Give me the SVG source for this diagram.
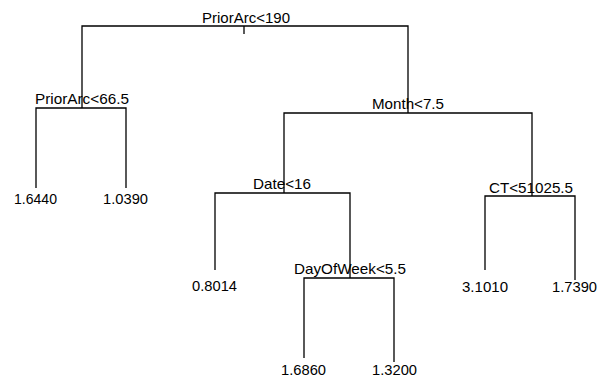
<svg xmlns="http://www.w3.org/2000/svg" width="607" height="379" viewBox="0 0 607 379">
<style>
.e{fill:none;stroke:#000;stroke-width:1.3}
.t{font-family:"Liberation Sans",Arial,sans-serif;font-size:15px;fill:#000}
</style>
<rect width="607" height="379" fill="#fff"/>
<g id="connectors">
<path class="e" d="M244,26 H82 V108"/>
<path class="e" d="M244,26 H408 V113"/>
<path class="e" d="M82,108 H36 V188"/>
<path class="e" d="M82,108 H126 V188"/>
<path class="e" d="M408,113 H284 V193"/>
<path class="e" d="M408,113 H532 V196"/>
<path class="e" d="M284,193 H215 V270"/>
<path class="e" d="M284,193 H350 V278"/>
<path class="e" d="M350,278 H304 V358"/>
<path class="e" d="M350,278 H394 V362"/>
<path class="e" d="M532,196 H485 V270"/>
<path class="e" d="M532,196 H575 V280"/>
</g>
<g id="n-root"><path class="e" d="M244,26 V34"/><text class="t" x="202" y="23" textLength="88" lengthAdjust="spacingAndGlyphs">PriorArc&lt;190</text></g>
<g id="n-priorarc665"><text class="t" x="35" y="104" textLength="94" lengthAdjust="spacingAndGlyphs">PriorArc&lt;66.5</text></g>
<g id="n-month"><text class="t" x="372" y="109" textLength="72" lengthAdjust="spacingAndGlyphs">Month&lt;7.5</text></g>
<g id="n-date"><text class="t" x="253" y="189" textLength="58" lengthAdjust="spacingAndGlyphs">Date&lt;16</text></g>
<g id="n-ct"><text class="t" x="489" y="193" textLength="84" lengthAdjust="spacingAndGlyphs">CT&lt;51025.5</text></g>
<g id="n-dow"><text class="t" x="294" y="274" textLength="112" lengthAdjust="spacingAndGlyphs">DayOfWeek&lt;5.5</text></g>
<g id="leaf-1"><text class="t" x="14" y="204" textLength="43" lengthAdjust="spacingAndGlyphs">1.6440</text></g>
<g id="leaf-2"><text class="t" x="103" y="204" textLength="45" lengthAdjust="spacingAndGlyphs">1.0390</text></g>
<g id="leaf-3"><text class="t" x="192" y="291" textLength="45" lengthAdjust="spacingAndGlyphs">0.8014</text></g>
<g id="leaf-4"><text class="t" x="281" y="375" textLength="45" lengthAdjust="spacingAndGlyphs">1.6860</text></g>
<g id="leaf-5"><text class="t" x="372" y="375" textLength="45" lengthAdjust="spacingAndGlyphs">1.3200</text></g>
<g id="leaf-6"><text class="t" x="462" y="292" textLength="46" lengthAdjust="spacingAndGlyphs">3.1010</text></g>
<g id="leaf-7"><text class="t" x="552" y="292" textLength="45" lengthAdjust="spacingAndGlyphs">1.7390</text></g>
</svg>
